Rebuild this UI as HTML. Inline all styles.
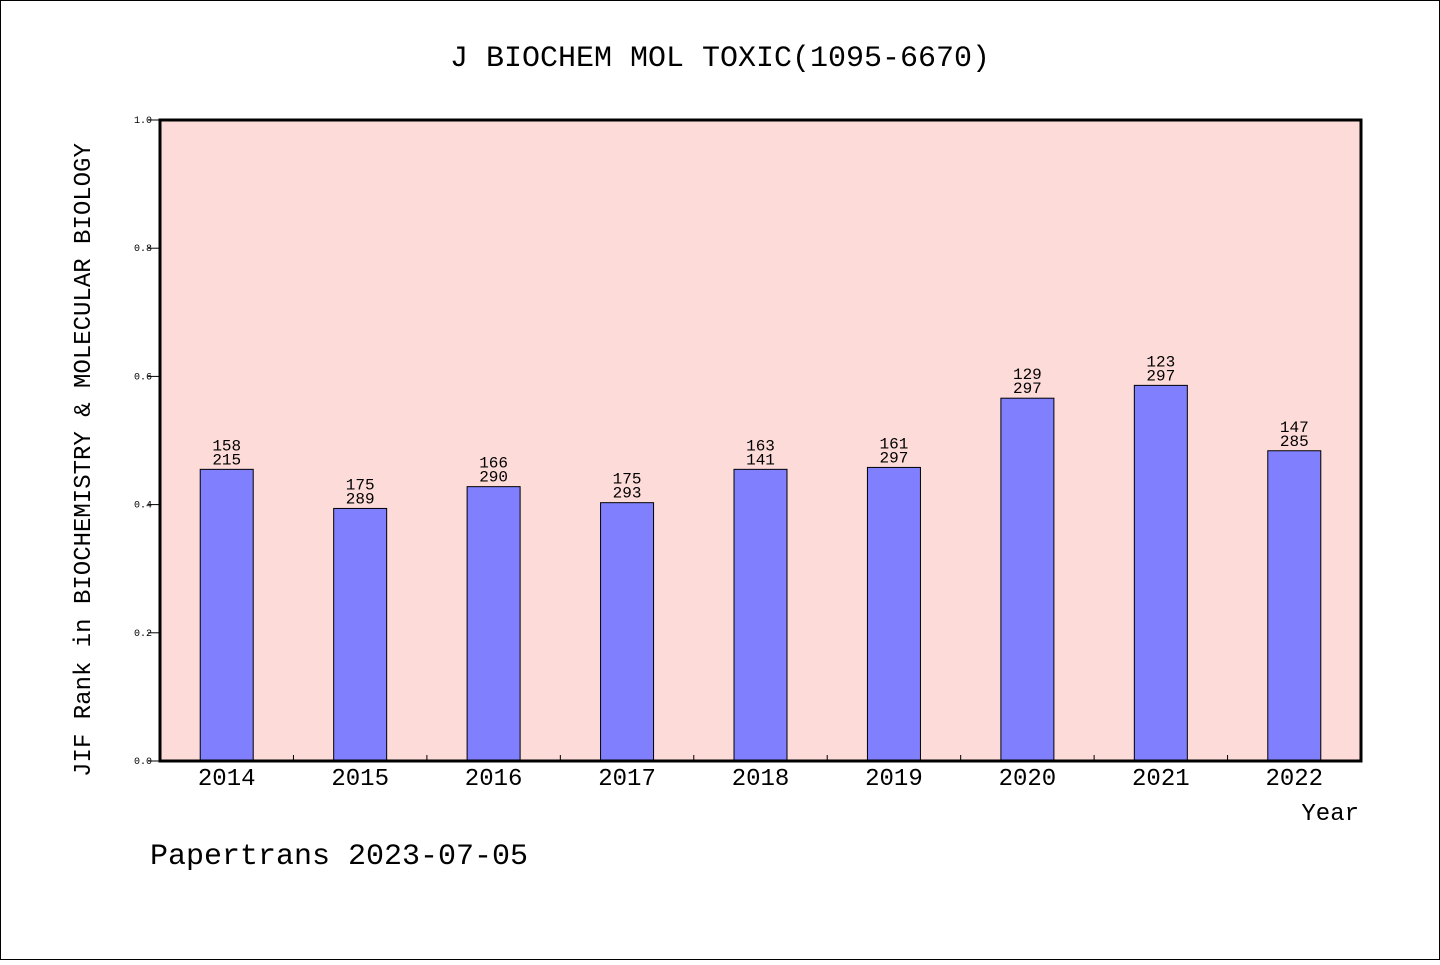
<!DOCTYPE html>
<html><head><meta charset="utf-8"><style>
body{margin:0;background:#fff}
svg text{font-family:"Liberation Mono","DejaVu Sans Mono",monospace;fill:#000}
</style></head><body>
<svg id="chart" width="1440" height="960" xmlns="http://www.w3.org/2000/svg">
<rect x="0.5" y="0.5" width="1439" height="959" fill="#fff" stroke="#000"/>
<text x="720" y="66" font-size="30" text-anchor="middle">J BIOCHEM MOL TOXIC(1095-6670)</text>
<rect x="160" y="120" width="1201" height="641" fill="#fddbd8"/>
<g id="bars"></g>
<g id="ticks"></g>
<rect x="160" y="120" width="1201" height="641" fill="none" stroke="#000" stroke-width="3"/>
<text transform="translate(90,460) rotate(-90)" font-size="24" text-anchor="middle">JIF Rank in BIOCHEMISTRY &amp; MOLECULAR BIOLOGY</text>
<text x="1359" y="820" font-size="24" text-anchor="end">Year</text>
<text x="150" y="864" font-size="30">Papertrans 2023-07-05</text>
</svg>
<script>
const years=["2014","2015","2016","2017","2018","2019","2020","2021","2022"];
const values=[0.455,0.394,0.428,0.403,0.455,0.458,0.566,0.586,0.484];
const ranks=["158","175","166","175","163","161","129","123","147"];
const totals=["215","289","290","293","141","297","297","297","285"];
const yTicks=[0,0.2,0.4,0.6,0.8,1.0];
const X0=160,X1=1361,Y0=761,Y1=120;
const bw=(X1-X0)/years.length;
const xs=i=>X0+bw*(i+0.5);
const ys=v=>Y0-(Y0-Y1)*v;
const NS="http://www.w3.org/2000/svg";
const bars=document.getElementById('bars'),ticks=document.getElementById('ticks');
function mk(t,a,p){const e=document.createElementNS(NS,t);for(const k in a)e.setAttribute(k,a[k]);p.appendChild(e);return e;}
years.forEach((y,i)=>{
 const cx=xs(i),top=ys(values[i]);
 const r=mk('rect',{x:cx-26.5,y:top,width:53,height:Y0-top,fill:'#8080ff',stroke:'#000','stroke-width':1},bars);
 
 
 const t1=mk('text',{x:cx,y:top-19,'font-size':16,'text-anchor':'middle'},bars);t1.textContent=ranks[i];
 
 
 const t2=mk('text',{x:cx,y:top-5,'font-size':16,'text-anchor':'middle'},bars);t2.textContent=totals[i];
 
 
 const xl=mk('text',{x:cx,y:785,'font-size':24,'text-anchor':'middle'},ticks);xl.textContent=y;
 
 
 if(i>0){const l=mk('line',{x1:X0+bw*i,x2:X0+bw*i,y1:Y0,y2:Y0-6,stroke:'#000'},ticks);
 
 }
});
yTicks.forEach(v=>{
 const y=ys(v);
 const l=mk('line',{x1:X0-12,x2:X0,y1:y,y2:y,stroke:'#000'},ticks);
 
 
 const t=mk('text',{x:152,y:y+3,'font-size':10,'text-anchor':'end','font-family':'Liberation Sans, sans-serif'},ticks);t.textContent=v.toFixed(1);
 
 
});
</script>
</body></html>
